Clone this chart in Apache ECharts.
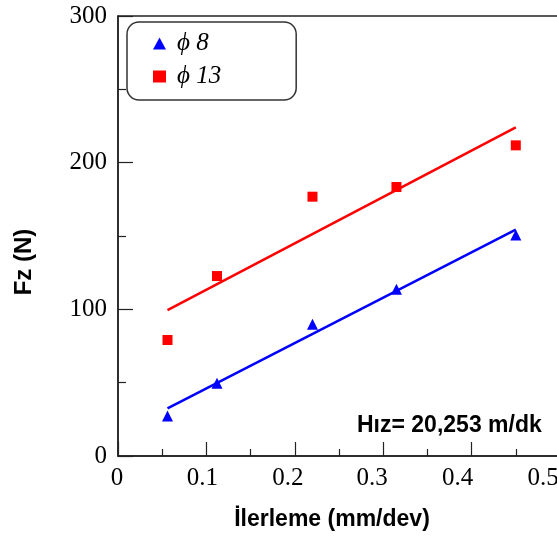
<!DOCTYPE html>
<html>
<head>
<meta charset="utf-8">
<script src="https://cdn.jsdelivr.net/npm/echarts@6/dist/echarts.min.js"></script>
<style>
  html, body { margin: 0; padding: 0; background: #fff; }
  #main { width: 557px; height: 536px; }
</style>
</head>
<body>
<div id="main"></div>
<script>
// feed rate (mm/dev)
var feed = [0.056, 0.112, 0.22, 0.315, 0.45];
// measured Fz (N)
var fz8 = [27.3, 49.6, 89.8, 113.7, 150.7];
var fz13 = [79.1, 122.7, 176.8, 183.4, 211.8];
// fitted line ends
var fitX = [0.056, 0.45];
var fit8 = [32.5, 154.3];
var fit13 = [99.5, 224.1];
var xTicks = [0, 0.1, 0.2, 0.3, 0.4, 0.5];
var yTicks = [0, 100, 200, 300];

function pairs(xs, ys) {
  return xs.map(function (x, i) { return [x, ys[i]]; });
}

var chart = echarts.init(document.getElementById('main'));
var serif = '"Liberation Serif", "Times New Roman", serif';
var sans = '"Liberation Sans", Arial, sans-serif';
var axisCol = '#222';

// the original x labels drift a little left of their ticks
var labelShift = [1, 4, 7, 11, 14, 17];
var xRich = {};
labelShift.forEach(function (d, i) {
  xRich['s' + i] = { fontFamily: serif, fontSize: 25, color: '#000', padding: [0, 2 * d, 0, 0] };
});

var option = {
  animation: false,
  grid: {
    left: 118, top: 16, width: 442, height: 440,
    outerBoundsMode: 'none', containLabel: false,
    show: true, borderColor: axisCol, borderWidth: 1.5
  },
  xAxis: {
    type: 'value', min: 0, max: 0.5, interval: 0.1,
    axisLine: { lineStyle: { color: axisCol, width: 1.5 } },
    axisTick: { inside: true, length: 14, lineStyle: { color: axisCol, width: 1.2 } },
    minorTick: { show: true, splitNumber: 2, length: 7, lineStyle: { color: axisCol, width: 1.2 } },
    splitLine: { show: false },
    axisLabel: {
      color: '#000', fontFamily: serif, fontSize: 25, margin: 10,
      showMaxLabel: true, hideOverlap: false, rich: xRich,
      formatter: function (v) {
        var i = xTicks.indexOf(+v.toFixed(1));
        return i >= 0 ? '{s' + i + '|' + (+v.toFixed(1)) + '}' : '';
      }
    }
  },
  yAxis: {
    type: 'value', min: 0, max: 300, interval: 100,
    axisLine: { lineStyle: { color: axisCol, width: 1.5 } },
    axisTick: { inside: true, length: 15, lineStyle: { color: axisCol, width: 1.2 } },
    minorTick: { show: true, splitNumber: 2, length: 8, lineStyle: { color: axisCol, width: 1.2 } },
    splitLine: { show: false },
    axisLabel: {
      color: '#000', fontFamily: serif, fontSize: 25, margin: 11,
      formatter: function (v) { return yTicks.indexOf(v) >= 0 ? String(v) : ''; }
    }
  },
  legend: {
    orient: 'vertical', left: 127, top: 22,
    padding: [9, 75, 11, 26], itemGap: 8,
    itemWidth: 13, itemHeight: 12,
    backgroundColor: '#fff', borderColor: '#333', borderWidth: 1.5, borderRadius: 12,
    data: [
      { name: 'ϕ 8', icon: 'triangle' },
      { name: 'ϕ 13', icon: 'rect' }
    ],
    textStyle: { fontFamily: serif, fontStyle: 'italic', fontSize: 25, color: '#000', lineHeight: 24, padding: [0, 0, 0, 6] }
  },
  graphic: [
    {
      type: 'text', x: 24, y: 262, rotation: Math.PI / 2,
      style: { text: 'Fz (N)', font: 'bold 24px ' + sans, fill: '#000', align: 'center', verticalAlign: 'middle' }
    },
    {
      type: 'text', x: 332, y: 520,
      style: { text: 'İlerleme (mm/dev)', font: 'bold 23px ' + sans, fill: '#000', align: 'center', verticalAlign: 'middle' }
    },
    {
      type: 'text', x: 357, y: 426,
      style: { text: 'Hız= 20,253 m/dk', font: 'bold 23px ' + sans, fill: '#000', align: 'left', verticalAlign: 'middle' }
    }
  ],
  series: [
    {
      name: 'fit8', type: 'line', data: pairs(fitX, fit8), symbol: 'none',
      lineStyle: { color: '#0000ff', width: 2.5 }, z: 2
    },
    {
      name: 'fit13', type: 'line', data: pairs(fitX, fit13), symbol: 'none',
      lineStyle: { color: '#ff0000', width: 2.5 }, z: 2
    },
    {
      name: 'ϕ 8', type: 'scatter', data: pairs(feed, fz8),
      symbol: 'triangle', symbolSize: 11, itemStyle: { color: '#0000ff', opacity: 1 }, z: 3
    },
    {
      name: 'ϕ 13', type: 'scatter', data: pairs(feed, fz13),
      symbol: 'rect', symbolSize: 10, itemStyle: { color: '#ff0000', opacity: 1 }, z: 3
    }
  ]
};

chart.setOption(option);
</script>
</body>
</html>
